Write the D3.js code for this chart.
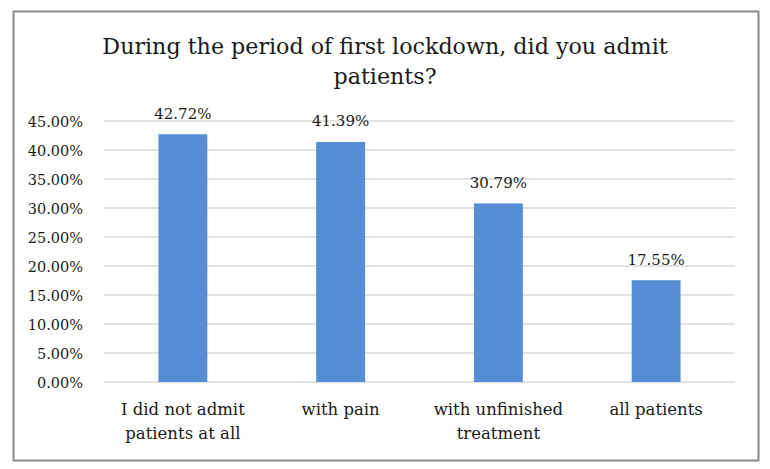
<!DOCTYPE html>
<html><head><meta charset="utf-8">
<script src="https://cdn.jsdelivr.net/npm/d3@7"></script>
<style>body{margin:0;background:#fff}svg{display:block}</style>
</head><body>
<svg id="c" width="770" height="469"></svg>
<script>
const categories = [["I did not admit","patients at all"],["with pain"],["with unfinished","treatment"],["all patients"]];
const values = [42.72, 41.39, 30.79, 17.55];
const yTicks = [0,5,10,15,20,25,30,35,40,45];
const titleLines = ["During the period of first lockdown, did you admit","patients?"];

const font = "'DejaVu Serif', serif";
const svg = d3.select("#c");
svg.append("rect").attr("x",13.5).attr("y",11.5).attr("width",745).attr("height",449)
  .attr("fill","#fff").attr("stroke","#898989").attr("stroke-width",2);

const x = d3.scaleBand().domain(d3.range(categories.length)).range([104,735]).paddingInner(0.69).paddingOuter(0.345);
const y = d3.scaleLinear().domain([0,45]).range([382,121]);

svg.append("g").selectAll("line").data(yTicks).join("line")
  .attr("x1",104).attr("x2",735).attr("y1",d=>y(d)).attr("y2",d=>y(d))
  .attr("stroke","#d9d9d9").attr("stroke-width",1.5);

svg.append("g").selectAll("text").data(yTicks).join("text")
  .attr("x",83).attr("y",d=>y(d)+5.5).attr("text-anchor","end")
  .attr("font-family",font).attr("font-size",14.5).attr("fill","#1a1a1a")
  .text(d=>d.toFixed(2)+"%");

svg.append("g").selectAll("rect").data(values).join("rect")
  .attr("x",(d,i)=>x(i)).attr("width",x.bandwidth())
  .attr("y",d=>y(d)).attr("height",d=>y(0)-y(d)).attr("fill","#558ed5");

svg.append("g").selectAll("text").data(values).join("text")
  .attr("x",(d,i)=>x(i)+x.bandwidth()/2).attr("y",d=>y(d)-15.5).attr("text-anchor","middle")
  .attr("font-family",font).attr("font-size",15).attr("fill","#1a1a1a")
  .text(d=>d.toFixed(2)+"%");

const cg = svg.append("g").selectAll("text").data(categories).join("text")
  .attr("x",(d,i)=>x(i)+x.bandwidth()/2).attr("y",415).attr("text-anchor","middle")
  .attr("font-family",font).attr("font-size",16.5).attr("fill","#1a1a1a");
cg.selectAll("tspan").data(d=>d).join("tspan")
  .attr("x",function(){return this.parentNode.getAttribute("x");})
  .attr("dy",(d,i)=>i===0?0:24).text(d=>d);

svg.append("g").selectAll("text").data(titleLines).join("text")
  .attr("x",385).attr("y",(d,i)=>54+i*30).attr("text-anchor","middle")
  .attr("font-family",font).attr("font-size",22.2).attr("fill","#1a1a1a")
  .text(d=>d);
</script>
</body></html>
